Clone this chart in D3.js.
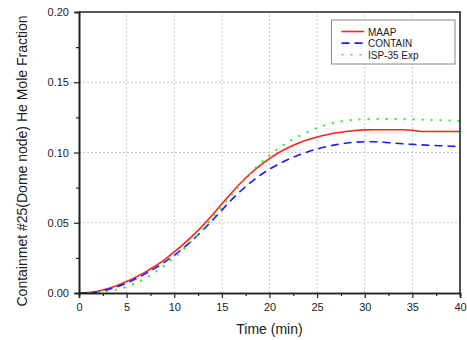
<!DOCTYPE html>
<html>
<head>
<meta charset="utf-8">
<script src="https://cdn.jsdelivr.net/npm/d3@7"></script>
<style>
  body { margin: 0; background: #fff; }
  svg { font-family: "Liberation Sans", Arial, sans-serif; }
</style>
</head>
<body>
<svg id="chart" width="467" height="340"></svg>
<script>
// time in minutes (shared by all series)
const time = [0,1,2,3,4,5,6,7,8,9,10,11,12,13,14,15,16,17,18,19,20,
  21,22,23,24,25,26,27,28,29,30,31,32,33,34,35,36,37,38,39,40];

const maap = [0,0.0003,0.0013,0.003,0.0053,0.0082,0.0115,0.015,0.0192,0.0238,0.0292,
  0.035,0.0412,0.048,0.0555,0.0635,0.0712,0.0785,0.085,0.0907,0.0957,
  0.1,0.1036,0.1066,0.109,0.111,0.1127,0.114,0.115,0.1157,0.1161,
  0.1162,0.1162,0.1162,0.1162,0.1158,0.115,0.115,0.115,0.115,0.115];

const contain = [0,0.0002,0.0009,0.0024,0.0045,0.0072,0.0103,0.0138,0.0177,0.022,0.0268,
  0.0322,0.0382,0.0447,0.0517,0.059,0.0663,0.0728,0.0786,0.0837,0.0881,
  0.0919,0.0952,0.098,0.1004,0.1025,0.1042,0.1056,0.1066,0.1073,0.1077,
  0.1077,0.1073,0.1067,0.1062,0.1058,0.1054,0.1051,0.1048,0.1045,0.1043];

const isp35 = [0,0.0001,0.0005,0.0013,0.0026,0.0045,0.0072,0.0106,0.0148,0.0197,0.0252,
  0.0313,0.0381,0.0455,0.0534,0.0615,0.0697,0.0777,0.0852,0.092,0.098,
  0.1032,0.1076,0.1113,0.1145,0.1175,0.1198,0.1215,0.1227,0.1233,0.1236,
  0.1238,0.1238,0.1238,0.1237,0.1236,0.1234,0.1232,0.123,0.1228,0.1226];

const seriesNames = ["MAAP", "CONTAIN", "ISP-35 Exp"];
const xTicks = [0,5,10,15,20,25,30,35,40];
const yTicks = [0,0.05,0.10,0.15,0.20];

const margin = {top: 12, right: 7, bottom: 47, left: 79};
const width = 467, height = 340;
const svg = d3.select("#chart");

let x = d3.scaleLinear().domain([0, 40]).range([margin.left, width - margin.right]);
let y = d3.scaleLinear().domain([0, 0.2]).range([height - margin.bottom, margin.top]);

// grid
let grid = svg.append("g").attr("stroke", "#c8c8c8").attr("stroke-dasharray", "2,2").attr("stroke-width", 1);
grid.selectAll(".gx").data(xTicks.slice(1, -1)).enter().append("line")
  .attr("x1", d => x(d)).attr("x2", d => x(d))
  .attr("y1", y(0)).attr("y2", y(0.2));
grid.selectAll(".gy").data(yTicks.slice(1, -1)).enter().append("line")
  .attr("y1", d => y(d)).attr("y2", d => y(d))
  .attr("x1", x(0)).attr("x2", x(40));

// series
const series = [
  {name: seriesNames[0], values: maap, color: "#ff2020", dash: null},
  {name: seriesNames[1], values: contain, color: "#1a1aff", dash: "8,5"},
  {name: seriesNames[2], values: isp35, color: "#22ee22", dash: "2,7"}
];

let line = d3.line().x((d, i) => x(time[i])).y(d => y(d)).curve(d3.curveMonotoneX);

svg.append("g").selectAll("path").data(series).enter().append("path")
  .attr("d", s => line(s.values))
  .attr("fill", "none")
  .attr("stroke", s => s.color)
  .attr("stroke-width", s => s.dash === "2,7" ? 2 : 1.6)
  .attr("stroke-dasharray", s => s.dash);

// axes
svg.append("g").attr("transform", `translate(0,${y(0)})`)
  .call(d3.axisBottom(x).tickValues(xTicks).tickSize(5).tickPadding(5).tickFormat(d3.format("d")));
svg.append("g").attr("transform", `translate(0,${y(0)})`)
  .call(d3.axisBottom(x).tickValues(d3.range(2.5, 40, 5)).tickSize(3).tickFormat(""));
svg.append("g").attr("transform", `translate(${x(0)},0)`)
  .call(d3.axisLeft(y).tickValues(yTicks).tickSize(5).tickPadding(5).tickFormat(d3.format(".2f")));
svg.append("g").attr("transform", `translate(${x(0)},0)`)
  .call(d3.axisLeft(y).tickValues(d3.range(0.025, 0.2, 0.05)).tickSize(3).tickFormat(""));

svg.selectAll(".domain").attr("stroke", "#222").attr("stroke-width", 1.6);
svg.selectAll(".tick line").attr("stroke", "#222").attr("stroke-width", 1.2);
svg.selectAll(".tick text").attr("font-size", 11).attr("fill", "#222")
  .attr("font-family", "'Liberation Sans', Arial, sans-serif");

// top and right frame
svg.append("path")
  .attr("d", `M${x(0)},${y(0.2)}H${x(40)}V${y(0)}`)
  .attr("fill", "none").attr("stroke", "#222").attr("stroke-width", 1.6);

// axis titles
svg.append("text").attr("x", (x(0) + x(40)) / 2).attr("y", 334)
  .attr("text-anchor", "middle").attr("font-size", 14).attr("fill", "#222")
  .text("Time (min)");
svg.append("text").attr("transform", "translate(27,161) rotate(-90)")
  .attr("text-anchor", "middle").attr("font-size", 14).attr("fill", "#222")
  .text("Containmet #25(Dome node) He Mole Fraction");

// legend
let legend = svg.append("g");
legend.append("rect").attr("x", 331.5).attr("y", 20).attr("width", 123.5).attr("height", 44)
  .attr("fill", "#fff").attr("stroke", "#888").attr("stroke-width", 1);
let items = legend.selectAll(".item").data(series).enter().append("g")
  .attr("transform", (d, i) => `translate(0,${31.5 + i * 11.6})`);
items.append("line").attr("x1", 341.5).attr("x2", 364).attr("y1", 0).attr("y2", 0)
  .attr("stroke", d => d.color).attr("stroke-width", 1.6)
  .attr("stroke-dasharray", d => d.dash);
items.append("text").attr("x", 368).attr("y", 4).attr("font-size", 10).attr("fill", "#222")
  .text(d => d.name);
</script>
</body>
</html>
